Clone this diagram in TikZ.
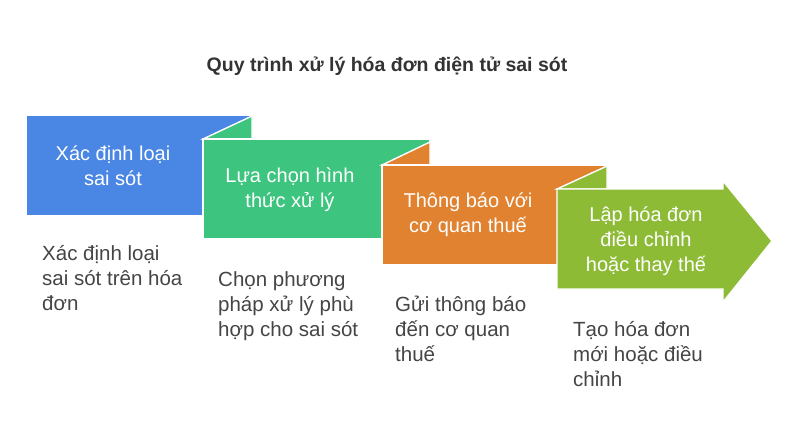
\documentclass[tikz,border=0pt]{standalone}
\usepackage{fontspec}
\setmainfont{Liberation Sans}
\definecolor{cblue}{HTML}{4A86E4}
\definecolor{cgreen}{HTML}{3DC47F}
\definecolor{corange}{HTML}{E0822F}
\definecolor{clime}{HTML}{8DBB36}
\definecolor{ctext}{HTML}{454545}
\definecolor{ctitle}{HTML}{333333}
\tikzset{
  boxshape/.style={draw=white, line width=1.4pt, line join=miter},
  boxlabel/.style={text=white, font=\fontsize{20}{25}\selectfont, align=center, inner sep=0pt},
  desclabel/.style={text=ctext, font=\fontsize{20.5}{25}\selectfont, align=left, anchor=north west, inner sep=0pt},
}
\begin{document}
\begin{tikzpicture}[x=1pt,y=-1pt]
\useasboundingbox (0,0) rectangle (800,444);
\fill[white] (0,0) rectangle (800,444);
\node[text=ctitle, font=\bfseries\fontsize{19.5}{22}\selectfont, inner sep=0pt] (title) at (387,66) {Quy trình xử lý hóa đơn điện tử sai sót};
% blue
\fill[cblue] (27,116) rectangle (252,215);
% green flap + box
\filldraw[cgreen, boxshape] (203,139) -- (252,116) -- (252,139) -- cycle;
\filldraw[cgreen, boxshape] (203,139) rectangle (430,239);
% orange
\filldraw[corange, boxshape] (382,165) -- (430,142) -- (430,165) -- cycle;
\filldraw[corange, boxshape] (382,165) rectangle (607,265);
% lime
\filldraw[clime, boxshape] (557,189) -- (607,166) -- (607,189) -- cycle;
\filldraw[clime, boxshape] (557,189) -- (723,189) -- (723,181) -- (772,241) -- (723,302) -- (723,289) -- (557,289) -- cycle;
% box labels
\node[boxlabel] (b1) at (113,166) {Xác định loại\\sai sót};
\node[boxlabel] (b2) at (290,190) {Lựa chọn hình\\thức xử lý};
\node[boxlabel] (b3) at (468,215) {Thông báo với\\cơ quan thuế};
\node[boxlabel] (b4) at (646,241) {Lập hóa đơn\\điều chỉnh\\hoặc thay thế};
% descriptions
\node[desclabel] (d1) at (42,245) {Xác định loại\\sai sót trên hóa\\đơn};
\node[desclabel] (d2) at (218,271) {Chọn phương\\pháp xử lý phù\\hợp cho sai sót};
\node[desclabel] (d3) at (395,296) {Gửi thông báo\\đến cơ quan\\thuế};
\node[desclabel] (d4) at (573,321) {Tạo hóa đơn\\mới hoặc điều\\chỉnh};
\end{tikzpicture}
\end{document}
